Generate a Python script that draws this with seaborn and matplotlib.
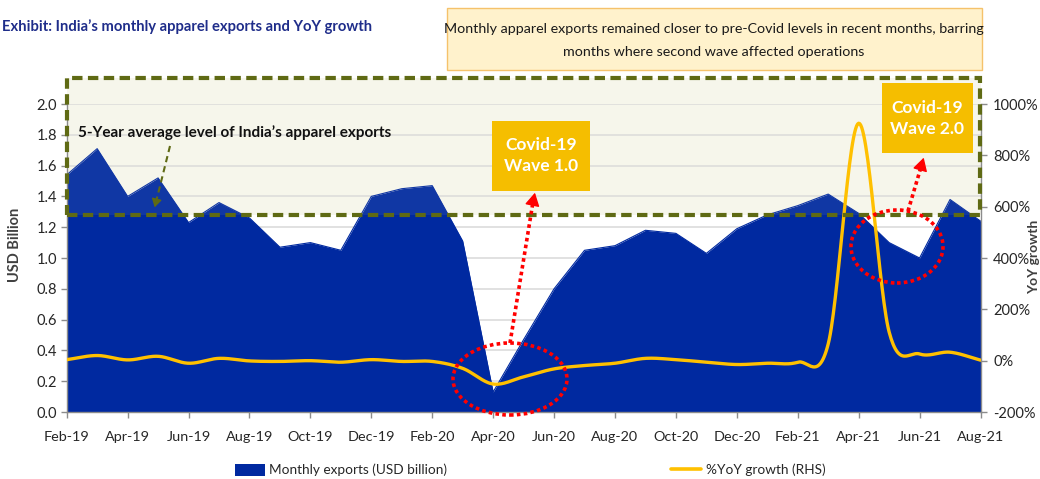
import matplotlib
matplotlib.use("Agg")
import matplotlib.pyplot as plt
import seaborn as sns
import numpy as np
import pandas as pd
from matplotlib.patches import Rectangle, Ellipse, FancyArrowPatch, Patch
from matplotlib.lines import Line2D

# ---------------- data ----------------
months = ["Feb-19", "Mar-19", "Apr-19", "May-19", "Jun-19", "Jul-19", "Aug-19", "Sep-19",
          "Oct-19", "Nov-19", "Dec-19", "Jan-20", "Feb-20", "Mar-20", "Apr-20", "May-20",
          "Jun-20", "Jul-20", "Aug-20", "Sep-20", "Oct-20", "Nov-20", "Dec-20", "Jan-21",
          "Feb-21", "Mar-21", "Apr-21", "May-21", "Jun-21", "Jul-21", "Aug-21"]
exports = [1.54, 1.71, 1.40, 1.52, 1.23, 1.36, 1.26, 1.07, 1.10, 1.05, 1.40, 1.45,
           1.47, 1.11, 0.13, 0.47, 0.80, 1.05, 1.08, 1.18, 1.16, 1.03, 1.19, 1.28,
           1.34, 1.415, 1.29, 1.10, 1.00, 1.38, 1.24]
yoy = [4, 20, 3, 17, -10, 9, -1, -3, 0, -6, 4, -3,
       -3, -30, -91, -63, -32, -19, -10, 9, 4, -6, -15, -10,
       -6, 65, 925, 112, 26, 33, 2]
five_year_avg = 1.28
left_ticks = [0.0, 0.2, 0.4, 0.6, 0.8, 1.0, 1.2, 1.4, 1.6, 1.8, 2.0]
right_ticks = [-200, 0, 200, 400, 600, 800, 1000]

# ---------------- style ----------------
sns.set_theme(style="white")
FONT = ["Lato", "DejaVu Sans"]
plt.rcParams["font.family"] = FONT

W, H = 1040, 479
fig = plt.figure(figsize=(W / 100, H / 100), dpi=100)


def fx(px):
    return px / W


def fy(py):
    return 1 - py / H


AX_L, AX_R, AX_B, AX_T = 66.7, 980.5, 412, 104
ax = fig.add_axes([fx(AX_L), fy(AX_B), (AX_R - AX_L) / W, (AX_B - AX_T) / H])
ax2 = ax.twinx()

BLUE = "#0029A0"
GOLD = "#FFC000"
OLIVE = "#5F6A14"
GRID = "#D9D9D9"
AXC = "#8C8C8C"
TXT = "#262626"

x = np.arange(len(months))
df = pd.DataFrame({"x": x, "exports": exports, "yoy": yoy})

# cream 5-year-average box (behind)
box_top = (AX_B - 78) / (AX_B - AX_T) * 2.0
ax.add_patch(Rectangle((0, five_year_avg), 30, box_top - five_year_avg, facecolor="#F7F7EC",
                       edgecolor="none", zorder=0.2, clip_on=False))

# grid
ax.set_axisbelow(True)
ax.yaxis.grid(True, color=GRID, linewidth=1.1)
ax.xaxis.grid(False)

# area
ax.fill_between(df["x"], df["exports"], 0, color=BLUE, linewidth=0, zorder=1)
sns.lineplot(data=df, x="x", y="exports", ax=ax, color=BLUE, linewidth=0.8, zorder=1.1, legend=False)

# light overlay of the box over the area
ax.add_patch(Rectangle((0, five_year_avg), 30, box_top - five_year_avg, facecolor="#F0F0E0",
                       alpha=0.07, edgecolor="none", zorder=1.5, clip_on=False))

ax.set_xlim(0, 30)
ax.set_ylim(0, 2.0)
ax.set_yticks(left_ticks)
ax.set_yticklabels([f"{v:.1f}" for v in left_ticks])
ax.set_xticks(x[::2])
ax.set_xticklabels(months[::2])
ax.set_xlabel("")
ax.set_ylabel("")


# smooth YoY curve (Catmull-Rom through the data points, like an Excel smoothed line)
def smooth(xs, ys, n=30):
    xs = np.asarray(xs, float)
    ys = np.asarray(ys, float)
    px = np.concatenate([[2 * xs[0] - xs[1]], xs, [2 * xs[-1] - xs[-2]]])
    py = np.concatenate([[2 * ys[0] - ys[1]], ys, [2 * ys[-1] - ys[-2]]])
    outx, outy = [], []
    t = np.linspace(0, 1, n, endpoint=False)
    h00 = 2 * t**3 - 3 * t**2 + 1
    h10 = t**3 - 2 * t**2 + t
    h01 = -2 * t**3 + 3 * t**2
    h11 = t**3 - t**2
    for i in range(1, len(px) - 2):
        m0y = (py[i + 1] - py[i - 1]) / 2
        m1y = (py[i + 2] - py[i]) / 2
        m0x = (px[i + 1] - px[i - 1]) / 2
        m1x = (px[i + 2] - px[i]) / 2
        outx.append(h00 * px[i] + h10 * m0x + h01 * px[i + 1] + h11 * m1x)
        outy.append(h00 * py[i] + h10 * m0y + h01 * py[i + 1] + h11 * m1y)
    outx.append([xs[-1]])
    outy.append([ys[-1]])
    return np.concatenate(outx), np.concatenate(outy)


sx, sy = smooth(df["x"], df["yoy"])
sdf = pd.DataFrame({"x": sx, "yoy": sy})
sns.lineplot(data=sdf, x="x", y="yoy", ax=ax2, color=GOLD, linewidth=2.4, sort=False,
             estimator=None, legend=False, zorder=3)
ax2.set_ylim(-200, 1000)
ax2.set_yticks(right_ticks)
ax2.set_yticklabels([f"{v}%" for v in right_ticks])
ax2.set_xlabel("")
ax2.set_ylabel("")
ax2.grid(False)

# spines & ticks
for a in (ax, ax2):
    for s in a.spines.values():
        s.set_visible(False)
ax.spines["left"].set_visible(True)
ax.spines["bottom"].set_visible(True)
ax2.spines["right"].set_visible(True)
for s in (ax.spines["left"], ax.spines["bottom"], ax2.spines["right"]):
    s.set_color(AXC)
    s.set_linewidth(1.0)
ax.tick_params(axis="y", which="major", left=True, length=4, width=1, color=AXC,
               pad=3, labelsize=10.5, labelcolor=TXT)
ax.tick_params(axis="x", which="major", bottom=True, length=4, width=1, color=AXC,
               pad=10, labelsize=10.4, labelcolor=TXT)
ax2.tick_params(axis="y", which="major", right=True, length=4, width=1, color=AXC,
                pad=5, labelsize=10.5, labelcolor=TXT)

# dashed 5-year-average box outline
ax2.add_patch(Rectangle((fx(AX_L), fy(214.5)), fx(980) - fx(AX_L), fy(78) - fy(214.5),
                        transform=fig.transFigure, facecolor="none", edgecolor=OLIVE,
                        linewidth=3.0, linestyle=(0, (2.5, 1.3)), zorder=5, clip_on=False))

# axis titles
fig.text(fx(15), fy(245), "USD Billion", rotation=90, ha="center", va="center",
         fontsize=10.5, fontweight="bold", color="#404040")
fig.text(fx(1034), fy(257), "YoY growth", rotation=90, ha="center", va="center",
         fontsize=10, fontweight="bold", color="#404040")

# title
fig.text(fx(2), fy(27), "Exhibit: India\u2019s monthly apparel exports and YoY growth",
         ha="left", va="center", fontsize=10.6, fontweight="bold", color="#1F2D8A")

# top annotation box
fig.add_artist(Rectangle((fx(447), fy(70)), fx(982) - fx(447), fy(8) - fy(70),
                         transform=fig.transFigure, facecolor="#FFF2CC", edgecolor="#F5C26B",
                         linewidth=1.0, zorder=1))
fig.text(fx(714), fy(29), "Monthly apparel exports remained closer to pre-Covid levels in recent months, barring",
         ha="center", va="center", fontsize=10.3, color="#1A1A1A", zorder=3)
fig.text(fx(714), fy(52), "months where second wave affected operations",
         ha="center", va="center", fontsize=10.3, color="#1A1A1A", zorder=3)

# 5-year avg label + dashed arrow
fig.text(fx(78), fy(133), "5-Year average level of India\u2019s apparel exports",
         ha="left", va="center", fontsize=11.0, fontweight="bold", color="#111111", zorder=3)
fig.add_artist(Line2D([fx(170), fx(156)], [fy(146), fy(202)], transform=fig.transFigure,
                      color=OLIVE, linewidth=1.5, linestyle=(0, (3, 2)), zorder=4))
fig.add_artist(FancyArrowPatch((fx(156.5), fy(200)), (fx(154), fy(210)), transform=fig.transFigure,
                               arrowstyle="-|>,head_length=5,head_width=3", color=OLIVE,
                               linewidth=1, zorder=4))

# covid boxes
def covid_box(x0, y0, x1, y1, label):
    fig.add_artist(Rectangle((fx(x0), fy(y1)), fx(x1) - fx(x0), fy(y0) - fy(y1),
                             transform=fig.transFigure, facecolor="#F5BE00", edgecolor="none",
                             zorder=2))
    fig.text(fx((x0 + x1) / 2), fy((y0 + y1) / 2), label, ha="center", va="center",
             fontsize=12.5, fontweight="bold", color="white", linespacing=1.4, zorder=3)


covid_box(491.7, 120.7, 590, 190.7, "Covid-19\nWave 1.0")
covid_box(881.7, 83.3, 972.7, 153.3, "Covid-19\nWave 2.0")

# red dotted ellipses and arrows
RED = "#FF0000"
for cx, cy, w, h in [(510, 379, 114, 72), (897, 246.5, 92, 73)]:
    fig.add_artist(Ellipse((fx(cx), fy(cy)), w / W, h / H, transform=fig.transFigure,
                           facecolor="none", edgecolor=RED, linewidth=2.6,
                           linestyle=(0, (1.0, 0.9)), zorder=4))
for (x0, y0), (x1, y1) in [((510, 343), (533, 202)), ((908, 211), (921, 167))]:
    fig.add_artist(Line2D([fx(x0), fx(x1)], [fy(y0), fy(y1)], transform=fig.transFigure,
                          color=RED, linewidth=2.6, linestyle=(0, (1.0, 0.9)), zorder=4))
for (x0, y0), (x1, y1) in [((533, 202), (535.5, 190)), ((921, 167), (924.5, 155))]:
    fig.add_artist(FancyArrowPatch((fx(x0), fy(y0)), (fx(x1), fy(y1)), transform=fig.transFigure,
                                   arrowstyle="-|>,head_length=8,head_width=4.5", color=RED,
                                   linewidth=1, zorder=4))

# legend
handles = [Patch(facecolor=BLUE, edgecolor="none"),
           Line2D([0], [0], color=GOLD, linewidth=2.6)]
fig.legend(handles, ["Monthly exports (USD billion)", "%YoY growth (RHS)"],
           loc="center", bbox_to_anchor=(fx(530), fy(470)), ncol=2, frameon=False,
           fontsize=9.8, handlelength=2.2, handleheight=1.0, handletextpad=0.3,
           columnspacing=16.5, labelcolor=TXT)

fig.savefig("out.png", dpi=100)
